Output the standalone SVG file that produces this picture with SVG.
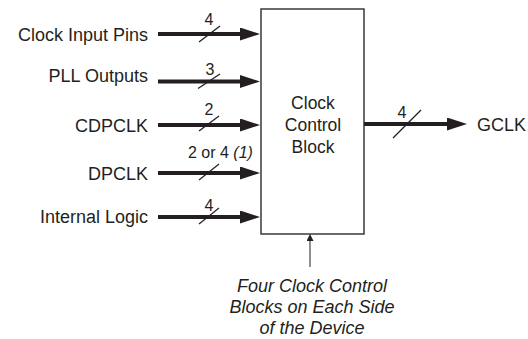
<svg xmlns="http://www.w3.org/2000/svg" width="528" height="339" viewBox="0 0 528 339">
<defs>
<style>
text{font-family:"Liberation Sans",Arial,sans-serif;fill:#231f20}
.lbl{font-size:18px;text-anchor:end}
.num{font-size:16px;text-anchor:middle}
.box{font-size:17.5px;text-anchor:middle}
.note{font-size:18px;font-style:italic;text-anchor:middle}
.bus{stroke:#231f20;stroke-width:4;fill:none;marker-end:url(#ah)}
.slash{stroke:#231f20;stroke-width:1.3}
.thin{stroke:#444;stroke-width:1.2;fill:none;marker-end:url(#ahs)}
</style>
<marker id="ah" markerUnits="userSpaceOnUse" markerWidth="22" markerHeight="14" refX="2" refY="6.5" orient="auto" viewBox="0 0 22 14">
<path d="M0,0 L20,6.5 L0,13 z" fill="#231f20"/>
</marker>
<marker id="ahs" markerUnits="userSpaceOnUse" markerWidth="8" markerHeight="8" refX="0" refY="3.5" orient="auto" viewBox="0 0 8 8">
<path d="M0,0 L7,3.5 L0,7 z" fill="#231f20"/>
</marker>
</defs>
<rect width="528" height="339" fill="#fff"/>

<g id="clock-control-block">
<rect x="261" y="9" width="103" height="225" fill="#fff" stroke="#3a3a3a" stroke-width="1.5"/>
<text class="box" x="313" y="108.5">Clock</text>
<text class="box" x="313" y="130.5">Control</text>
<text class="box" x="313" y="152.5">Block</text>
</g>

<g id="clock-input-pins"><text class="lbl" x="148" y="40.5">Clock Input Pins</text></g>
<g id="pll-outputs"><text class="lbl" x="148" y="82">PLL Outputs</text></g>
<g id="cdpclk"><text class="lbl" x="148" y="132">CDPCLK</text></g>
<g id="dpclk"><text class="lbl" x="148" y="180">DPCLK</text></g>
<g id="internal-logic"><text class="lbl" x="148" y="223">Internal Logic</text></g>
<g id="gclk"><text x="477" y="131" style="font-size:18px">GCLK</text></g>
<g id="note">
<text class="note" x="312" y="292">Four Clock Control</text>
<text class="note" x="312" y="313">Blocks on Each Side</text>
<text class="note" x="312" y="334">of the Device</text>
</g>

<g id="connectors">
<line class="bus" x1="158" y1="34" x2="242" y2="34"/>
<line class="slash" x1="199" y1="42" x2="220" y2="26"/>
<text class="num" x="209" y="25">4</text>

<line class="bus" x1="158" y1="81.5" x2="242" y2="81.5"/>
<line class="slash" x1="198" y1="88.5" x2="220" y2="74"/>
<text class="num" x="210" y="75">3</text>

<line class="bus" x1="158" y1="125" x2="242" y2="125"/>
<line class="slash" x1="199" y1="131" x2="219" y2="116"/>
<text class="num" x="209" y="115">2</text>

<line class="bus" x1="158" y1="173" x2="242" y2="173"/>
<line class="slash" x1="199" y1="180" x2="219" y2="164"/>
<text x="188" y="158" style="font-size:16px">2 or 4 <tspan font-style="italic">(1)</tspan></text>

<line class="bus" x1="158" y1="217" x2="242" y2="217"/>
<line class="slash" x1="199" y1="224" x2="219" y2="208"/>
<text class="num" x="209" y="211">4</text>

<line class="bus" x1="364" y1="124" x2="449" y2="124"/>
<line class="slash" x1="393" y1="138" x2="421" y2="110"/>
<text class="num" x="402" y="118">4</text>

<line class="thin" x1="310" y1="267" x2="310" y2="241"/>
</g>
</svg>
